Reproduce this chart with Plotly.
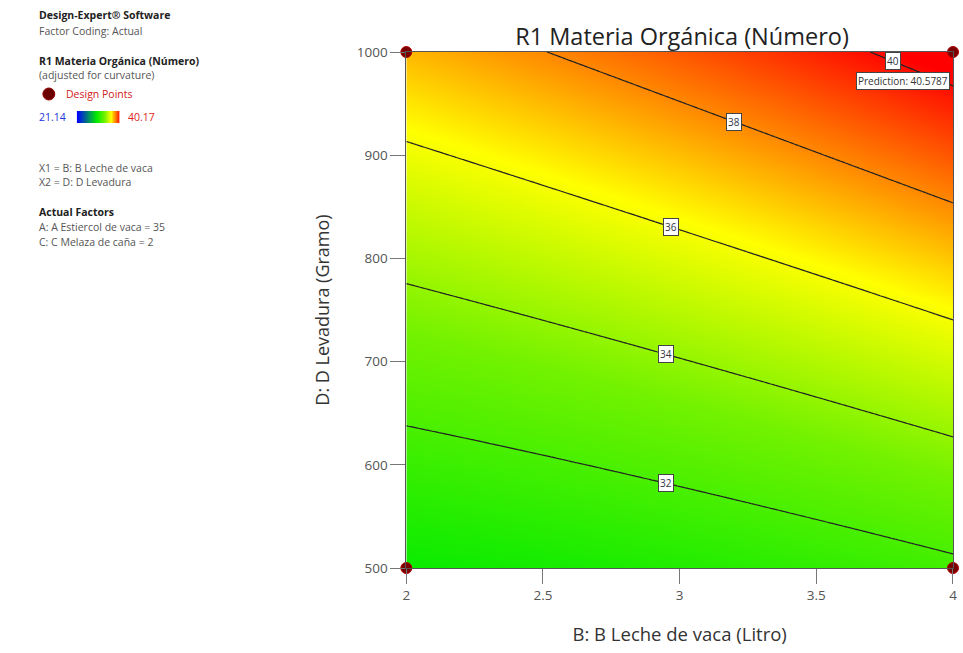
import numpy as np
import plotly.graph_objects as go

# ---- Factor ranges (actual units) ----
leche_range = [2.0, 4.0]           # B: Leche de vaca (Litro)
levadura_range = [500.0, 1000.0]   # D: Levadura (Gramo)

# ---- Fitted response surface in coded units ----
# xB = (B - 3) / 1, xD = (D - 750) / 250
coef_names = ["intercept", "B", "D", "BD", "B^2"]
coef_values = [34.75, 1.27, 4.02, 0.39, 0.1487]

# ---- Contour levels and where their labels sit along B ----
contour_levels = [32, 34, 36, 38, 40]
label_leche = [2.95, 2.95, 2.97, 3.2, 3.78]

# ---- Design points ----
design_leche = [2, 2, 4, 4]
design_levadura = [500, 1000, 500, 1000]

# ---- Tick values ----
x_ticks = [2, 2.5, 3, 3.5, 4]
y_ticks = [500, 600, 700, 800, 900, 1000]

# ---- Response colour range ----
resp_min, resp_max = 21.14, 40.17

# ---- Side panel text (text, colour, vertical pixel) ----
panel_lines = [
    ("<b>Design-Expert® Software</b>", "#222", 15),
    ("Factor Coding: Actual", "#555", 31),
    ("<b>R1 Materia Orgánica (Número)</b>", "#222", 61),
    ("(adjusted for curvature)", "#555", 75),
    ("X1 = B: B Leche de vaca", "#555", 168),
    ("X2 = D: D Levadura", "#555", 182),
    ("<b>Actual Factors</b>", "#222", 212),
    ("A: A Estiercol de vaca = 35", "#555", 227),
    ("C: C Melaza de caña = 2", "#555", 242),
]

W, H = 963, 653
ML, MR, MT, MB = 10, 6, 52, 85
PW, PH = W - ML - MR, H - MT - MB
PANEL_X = 37
PANEL_FONT = 10.5


def px_x(px):
    return (px - ML) / PW


def px_y(py):
    return (H - MB - py) / PH


def coded(B, D):
    return B - 3.0, (D - 750.0) / 250.0


def predict(B, D):
    b0, b1, b2, b12, b11 = coef_values
    xb, xd = coded(B, D)
    return b0 + b1 * xb + b2 * xd + b12 * xb * xd + b11 * xb ** 2


def levadura_on_level(level, B):
    b0, b1, b2, b12, b11 = coef_values
    xb = B - 3.0
    xd = (level - b0 - b1 * xb - b11 * xb ** 2) / (b2 + b12 * xb)
    return 750.0 + 250.0 * xd


B_grid = np.linspace(leche_range[0], leche_range[1], 241)
D_grid = np.linspace(levadura_range[0], levadura_range[1], 241)
BB, DD = np.meshgrid(B_grid, D_grid)
Z = predict(BB, DD)

colorscale = [
    [0.0, "rgb(0,0,255)"],
    [0.45, "rgb(0,235,0)"],
    [0.64, "rgb(115,242,0)"],
    [0.79, "rgb(255,255,0)"],
    [0.87, "rgb(255,155,0)"],
    [1.0, "rgb(255,0,0)"],
]

fig = go.Figure()

fig.add_trace(go.Contour(
    x=B_grid, y=D_grid, z=Z,
    colorscale=colorscale, zmin=resp_min, zmax=resp_max,
    contours=dict(coloring="heatmap", start=contour_levels[0],
                  end=contour_levels[-1], size=2, showlabels=False),
    line=dict(color="#222222", width=1.2),
    showscale=False, hoverinfo="skip",
))

fig.add_trace(go.Scatter(
    x=design_leche, y=design_levadura, mode="markers",
    marker=dict(size=11, color="#7a0000", line=dict(color="#b00000", width=1)),
    cliponaxis=False, showlegend=False, hoverinfo="skip",
))

# Mini colour bar in the side panel
fig.add_trace(go.Heatmap(
    z=[[resp_min, resp_max]], x=[0, 1], y=[0],
    colorscale=colorscale, zmin=resp_min, zmax=resp_max,
    zsmooth="best", showscale=False, hoverinfo="skip",
    xaxis="x2", yaxis="y2",
))

annotations = []

# Contour labels
for lvl, b in zip(contour_levels, label_leche):
    annotations.append(dict(
        x=b, y=levadura_on_level(lvl, b), xref="x", yref="y",
        text=str(lvl), showarrow=False,
        font=dict(size=10, color="#334", family="Open Sans"),
        bgcolor="white", bordercolor="#444", borderwidth=1, borderpad=1,
    ))

# Prediction flag at the top-right design point
annotations.append(dict(
    x=design_leche[-1], y=design_levadura[-1], xref="x", yref="y",
    text=f"Prediction: {predict(design_leche[-1], design_levadura[-1]):.4f}",
    showarrow=False, xshift=-50, yshift=-29,
    font=dict(size=10, color="#333", family="Open Sans"),
    bgcolor="white", bordercolor="#444", borderwidth=1, borderpad=1,
))

# Side panel text
for text, color, py in panel_lines:
    annotations.append(dict(
        x=px_x(PANEL_X), y=px_y(py), xref="paper", yref="paper",
        xanchor="left", yanchor="middle", text=text, showarrow=False,
        font=dict(size=PANEL_FONT, color=color, family="Open Sans"),
    ))

annotations.append(dict(
    x=px_x(64), y=px_y(94), xref="paper", yref="paper",
    xanchor="left", yanchor="middle", text="Design Points", showarrow=False,
    font=dict(size=PANEL_FONT, color="#d02020", family="Open Sans"),
))
annotations.append(dict(
    x=px_x(37), y=px_y(117), xref="paper", yref="paper",
    xanchor="left", yanchor="middle", text=f"{resp_min:.2f}", showarrow=False,
    font=dict(size=PANEL_FONT, color="#2233dd", family="Open Sans"),
))
annotations.append(dict(
    x=px_x(126), y=px_y(117), xref="paper", yref="paper",
    xanchor="left", yanchor="middle", text=f"{resp_max:.2f}", showarrow=False,
    font=dict(size=PANEL_FONT, color="#dd2222", family="Open Sans"),
))

shapes = [dict(
    type="circle", xref="paper", yref="paper",
    x0=px_x(43), x1=px_x(55), y0=px_y(100), y1=px_y(88),
    fillcolor="#6a0000", line=dict(color="#900000", width=1),
)]

fig.update_layout(
    width=W, height=H,
    margin=dict(l=ML, r=MR, t=MT, b=MB),
    paper_bgcolor="white", plot_bgcolor="white",
    font=dict(family="Open Sans", color="#444"),
    title=dict(text="R1 Materia Orgánica (Número)", x=682 / W, y=1 - 37 / H,
               xref="container", yref="container", xanchor="center",
               yanchor="middle", font=dict(size=23.5, color="#222")),
    xaxis=dict(
        domain=[px_x(408), 1], range=leche_range, tickvals=x_ticks,
        ticktext=[f"{v:g}" for v in x_ticks],
        ticks="outside", ticklen=15, tickcolor="#777",
        showline=True, linecolor="#555", mirror=True,
        showgrid=False, zeroline=False,
        tickfont=dict(size=13.5, color="#555"),
        title=dict(text="B: B Leche de vaca (Litro)", standoff=24,
                   font=dict(size=18.5, color="#333")),
    ),
    yaxis=dict(
        domain=[0, 1], range=levadura_range, tickvals=y_ticks,
        ticks="outside", ticklen=15, tickcolor="#777",
        showline=True, linecolor="#555", mirror=True,
        showgrid=False, zeroline=False,
        tickfont=dict(size=13.5, color="#555"),
        title=dict(text="D: D Levadura (Gramo)", standoff=22,
                   font=dict(size=18, color="#333")),
    ),
    xaxis2=dict(domain=[px_x(77), px_x(120)], range=[0, 1], visible=False,
                anchor="y2", fixedrange=True),
    yaxis2=dict(domain=[px_y(123), px_y(111)], range=[-0.5, 0.5], visible=False,
                anchor="x2", fixedrange=True),
    annotations=annotations,
    shapes=shapes,
    showlegend=False,
)

fig.write_html("out.html")
